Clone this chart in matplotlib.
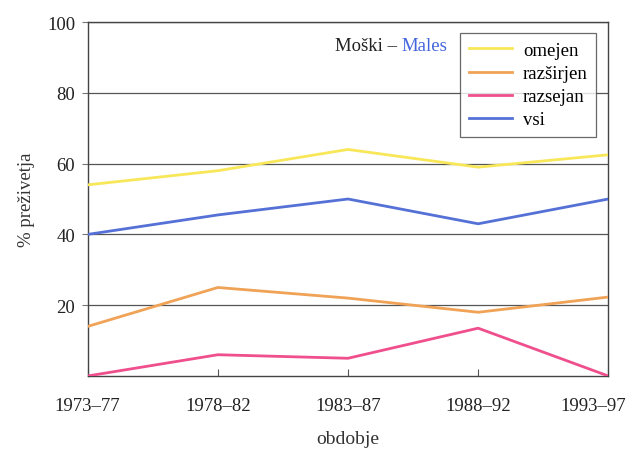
import matplotlib
matplotlib.use("Agg")
import matplotlib.pyplot as plt
import matplotlib.transforms as mtransforms

# data
periods = ["1973–77", "1978–82", "1983–87", "1988–92", "1993–97"]
omejen = [54, 58, 64, 59, 62.5]
razsirjen = [14, 25, 22, 18, 22.3]
razsejan = [0, 6, 5, 13.5, 0]
vsi = [40, 45.5, 50, 43, 50]

series = [
    ("omejen", omejen, "#f9e75a"),
    ("razširjen", razsirjen, "#f0a256"),
    ("razsejan", razsejan, "#ef4f8c"),
    ("vsi", vsi, "#5571d6"),
]

plt.rcParams["font.family"] = ["Liberation Serif", "DejaVu Serif"]

fig = plt.figure(figsize=(6.31, 4.52), dpi=100)
ax = fig.add_axes([0.139, 0.166, 0.825, 0.783])

x = range(len(periods))
for name, vals, col in series:
    ax.plot(x, vals, color=col, linewidth=2, label=name, zorder=3)

ax.set_xlim(0, len(periods) - 1)
ax.set_ylim(0, 100)
ax.set_yticks([20, 40, 60, 80, 100])
ax.set_xticks(list(x))
ax.set_xticklabels(periods)
ax.grid(axis="y", color="#555555", linewidth=0.9)
ax.tick_params(axis="x", direction="in", length=5, color="#555555", labelsize=13.5,
               pad=15, labelcolor="#222222")
ax.tick_params(axis="y", direction="out", length=4, color="#777777", labelsize=13.5,
               pad=5, labelcolor="#222222")
for s in ax.spines.values():
    s.set_color("#444444")
    s.set_linewidth(1.0)

# last period label sits a bit left of its tick, as in the original
last = ax.get_xticklabels()[-1]
last.set_transform(last.get_transform() +
                   mtransforms.ScaledTranslation(-15 / 100, 0, fig.dpi_scale_trans))

ax.set_xlabel("obdobje", fontsize=14, color="#333333", labelpad=12)
ax.set_ylabel("% preživetja", fontsize=13.5, color="#333333", labelpad=9)

t1 = ax.text(0.475, 0.935, "Moški – ", transform=ax.transAxes, fontsize=13.5,
             color="#222222", va="center", ha="left")
ax.annotate("Males", xycoords=t1, xy=(1, 0), va="bottom", ha="left",
            fontsize=13.5, color="#4466dd")

leg = ax.legend(loc="upper right", bbox_to_anchor=(0.977, 0.968), fontsize=13.5,
                frameon=True, fancybox=False, edgecolor="#444444",
                handlelength=2.3, borderpad=0.45, labelspacing=0.32,
                handletextpad=0.6, borderaxespad=0)
leg.get_frame().set_linewidth(0.9)
leg.set_zorder(5)

plt.savefig("out.png", dpi=100)
